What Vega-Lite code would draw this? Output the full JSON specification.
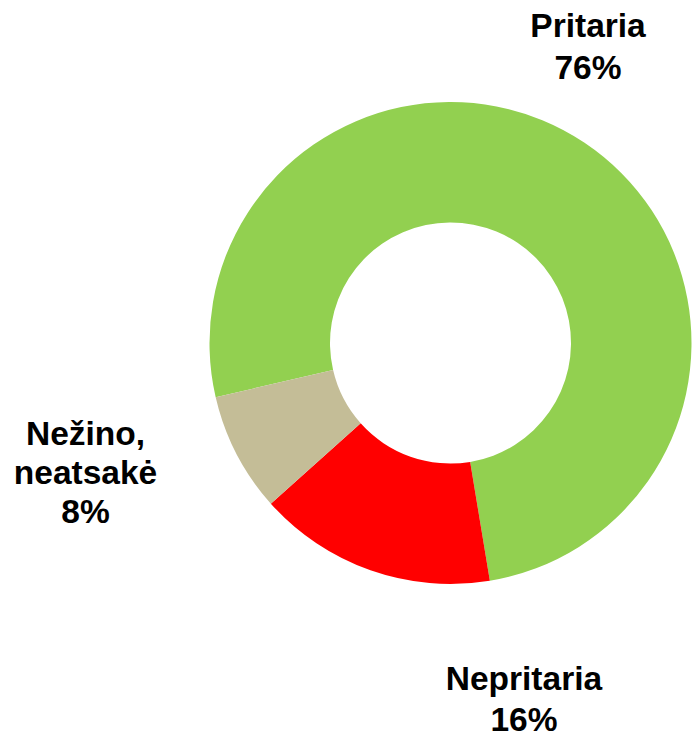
{
  "$schema": "https://vega.github.io/schema/vega-lite/v6.json",
  "width": 487,
  "height": 686,
  "autosize": {"type": "none"},
  "padding": {"left": 207, "right": 0, "top": 0, "bottom": 48},
  "background": "white",
  "view": {"stroke": null},
  "data": {
    "values": [
      {"cat": "Pritaria", "value": 76, "order": 1, "label": "Pritaria\n76%"},
      {"cat": "Nepritaria", "value": 16, "order": 2, "label": "Nepritaria\n16%"},
      {"cat": "Nežino, neatsakė", "value": 8, "order": 3, "label": "Nežino,\nneatsakė\n8%"}
    ]
  },
  "encoding": {
    "theta": {"field": "value", "type": "quantitative", "stack": true, "scale": {"domain": [0, 100], "range": [4.4855, 10.7687]}},
    "order": {"field": "order", "type": "quantitative"}
  },
  "layer": [
    {
      "mark": {"type": "arc", "outerRadius": 241, "innerRadius": 120.5, "stroke": null},
      "encoding": {
        "color": {
          "field": "cat", "type": "nominal", "legend": null,
          "scale": {"domain": ["Pritaria", "Nepritaria", "Nežino, neatsakė"], "range": ["#92D050", "#FF0000", "#C4BD97"]}
        }
      }
    },
    {
      "mark": {"type": "text", "radius": 320, "dx": -40.5, "dy": -39.7, "align": "center", "baseline": "alphabetic", "lineBreak": "\n", "lineHeight": 42, "font": "Liberation Sans", "fontWeight": "bold", "fontSize": 33.5, "color": "black"},
      "encoding": {
        "detail": {"field": "cat", "type": "nominal"},
        "text": {"condition": {"test": "datum.cat === 'Pritaria'", "field": "label"}, "value": ""}
      }
    },
    {
      "mark": {"type": "text", "radius": 360, "dx": 193, "dy": 7, "align": "center", "baseline": "alphabetic", "lineBreak": "\n", "lineHeight": 41, "font": "Liberation Sans", "fontWeight": "bold", "fontSize": 33.5, "color": "black"},
      "encoding": {
        "detail": {"field": "cat", "type": "nominal"},
        "text": {"condition": {"test": "datum.cat === 'Nepritaria'", "field": "label"}, "value": ""}
      }
    },
    {
      "mark": {"type": "text", "radius": 330, "dx": -72, "dy": -50, "align": "center", "baseline": "alphabetic", "lineBreak": "\n", "lineHeight": 39, "font": "Liberation Sans", "fontWeight": "bold", "fontSize": 33.5, "color": "black"},
      "encoding": {
        "detail": {"field": "cat", "type": "nominal"},
        "text": {"condition": {"test": "datum.cat === 'Nežino, neatsakė'", "field": "label"}, "value": ""}
      }
    }
  ]
}
